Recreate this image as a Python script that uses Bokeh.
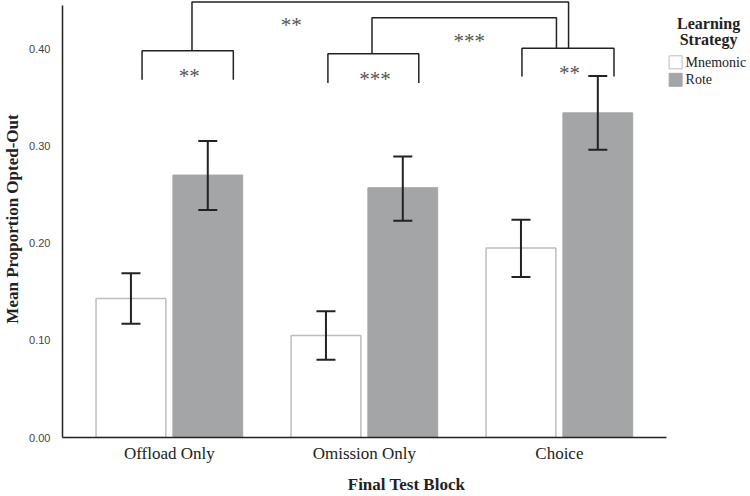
from bokeh.plotting import figure
from bokeh.models import (Range1d, LinearAxis, FixedTicker, NumeralTickFormatter,
                          ColumnDataSource, Whisker, TeeHead)
from bokeh.core.properties import value
from bokeh.embed import file_html
from bokeh.resources import INLINE

# Final test blocks and means with 95% CI bounds per learning strategy
blocks = ["Offload Only", "Omission Only", "Choice"]
mnemonic_mean = [0.143, 0.105, 0.195]
mnemonic_lower = [0.117, 0.080, 0.165]
mnemonic_upper = [0.169, 0.130, 0.224]
rote_mean = [0.270, 0.257, 0.334]
rote_lower = [0.234, 0.223, 0.296]
rote_upper = [0.305, 0.289, 0.372]
y_ticks = [0.0, 0.1, 0.2, 0.3, 0.4]

SERIF = "Liberation Serif"
SANS = "Liberation Sans"
INK = "#222222"
ROTE_FILL = "#a4a5a7"
MNEMO_EDGE = "#bdbdbd"

BAR_W = 0.358
OFFSET = 0.197

idx = list(range(len(blocks)))
mn_x = [i - OFFSET for i in idx]
ro_x = [i + OFFSET for i in idx]

p = figure(width=750, height=496, output_backend="svg", toolbar_location=None,
           x_range=Range1d(-0.548, 2.980), y_range=Range1d(0, 0.4496),
           x_axis_type=None, y_axis_type=None,
           min_border_left=61, min_border_right=0, min_border_top=0,
           min_border_bottom=59)
p.outline_line_color = None
p.grid.visible = False
p.background_fill_color = "white"

# bars
p.vbar(x=mn_x, top=mnemonic_mean, width=BAR_W, bottom=0,
       fill_color="white", line_color=MNEMO_EDGE, line_width=1.5)
p.vbar(x=ro_x, top=rote_mean, width=BAR_W, bottom=0,
       fill_color=ROTE_FILL, line_color=ROTE_FILL, line_width=1)

# error bars
err = ColumnDataSource(dict(x=mn_x + ro_x,
                            lo=mnemonic_lower + rote_lower,
                            hi=mnemonic_upper + rote_upper))
head = dict(size=19, line_color=INK, line_width=2)
p.add_layout(Whisker(source=err, base="x", lower="lo", upper="hi",
                     line_color=INK, line_width=2, level="annotation",
                     lower_head=TeeHead(**head), upper_head=TeeHead(**head)))

# axes
yax = LinearAxis(ticker=FixedTicker(ticks=y_ticks),
                 formatter=NumeralTickFormatter(format="0.00"),
                 bounds=(0, 0.4444),
                 axis_label="Mean Proportion Opted-Out")
yax.axis_line_color = INK
yax.axis_line_width = 1.5
yax.major_tick_line_color = None
yax.minor_tick_line_color = None
yax.major_label_text_font = SANS
yax.major_label_text_font_size = "11px"
yax.major_label_text_color = "#444444"
yax.major_label_standoff = 6
yax.axis_label_text_font = SERIF
yax.axis_label_text_font_style = "bold"
yax.axis_label_text_font_size = "17px"
yax.axis_label_text_color = INK
yax.axis_label_standoff = 4
p.add_layout(yax, "left")

xax = LinearAxis(ticker=FixedTicker(ticks=idx),
                 major_label_overrides={i: b for i, b in zip(idx, blocks)},
                 bounds=(-0.548, 2.55),
                 axis_label="Final Test Block")
xax.axis_line_color = INK
xax.axis_line_width = 1.5
xax.major_tick_line_color = None
xax.minor_tick_line_color = None
xax.major_label_text_font = SERIF
xax.major_label_text_font_size = "17px"
xax.major_label_text_color = INK
xax.major_label_standoff = 0
xax.axis_label_text_font = SERIF
xax.axis_label_text_font_style = "bold"
xax.axis_label_text_font_size = "17px"
xax.axis_label_text_color = INK
xax.axis_label_standoff = 9
p.add_layout(xax, "below")

# significance brackets: within-block comparisons (Mnemonic vs Rote)
within = [  # (left, right, top, drop, stars)
    (-0.140, 0.328, 0.398, 0.030, "**"),
    (0.813, 1.279, 0.3947, 0.030, "***"),
    (1.808, 2.280, 0.4005, 0.029, "**"),
]
# between-block comparisons of Rote means
between = [  # (left, right, top, left_end, right_end, label_x, stars)
    (0.116, 2.047, 0.448, 0.398, 0.4005, 0.625, "**"),
    (1.039, 1.985, 0.4318, 0.3947, 0.4005, 1.538, "***"),
]

xs, ys, tx, ty, tt = [], [], [], [], []
for x0, x1, top, drop, s in within:
    xs.append([x0, x0, x1, x1])
    ys.append([top - drop, top, top, top - drop])
    tx.append((x0 + x1) / 2 + 0.008)
    ty.append(top - 0.026)
    tt.append(s)
for x0, x1, top, yl, yr, lx, s in between:
    xs.append([x0, x0, x1, x1])
    ys.append([yl, top, top, yr])
    tx.append(lx)
    ty.append(top - 0.024)
    tt.append(s)

p.multi_line(xs=xs, ys=ys, line_color=INK, line_width=1.5)
p.text(x=tx, y=ty, text=tt, text_font=value(SERIF), text_font_size="21px",
       text_color="#555555", text_align="center", text_baseline="middle")

# legend
p.text(x=[2.765, 2.765], y=[0.4262, 0.4092], text=["Learning", "Strategy"],
       text_font=value(SERIF), text_font_style="bold", text_font_size="16px",
       text_color=INK, text_align="center", text_baseline="middle")
p.rect(x=[2.596, 2.596], y=[0.3860, 0.3680], width=13, height=13,
       width_units="screen", height_units="screen",
       fill_color=["white", ROTE_FILL], line_color=[MNEMO_EDGE, ROTE_FILL],
       line_width=1)
p.text(x=[2.647, 2.647], y=[0.3860, 0.3680], text=["Mnemonic", "Rote"],
       text_font=value(SERIF), text_font_size="14px", text_color=INK,
       text_align="left", text_baseline="middle")

open("out.html", "w").write(file_html(p, INLINE))
